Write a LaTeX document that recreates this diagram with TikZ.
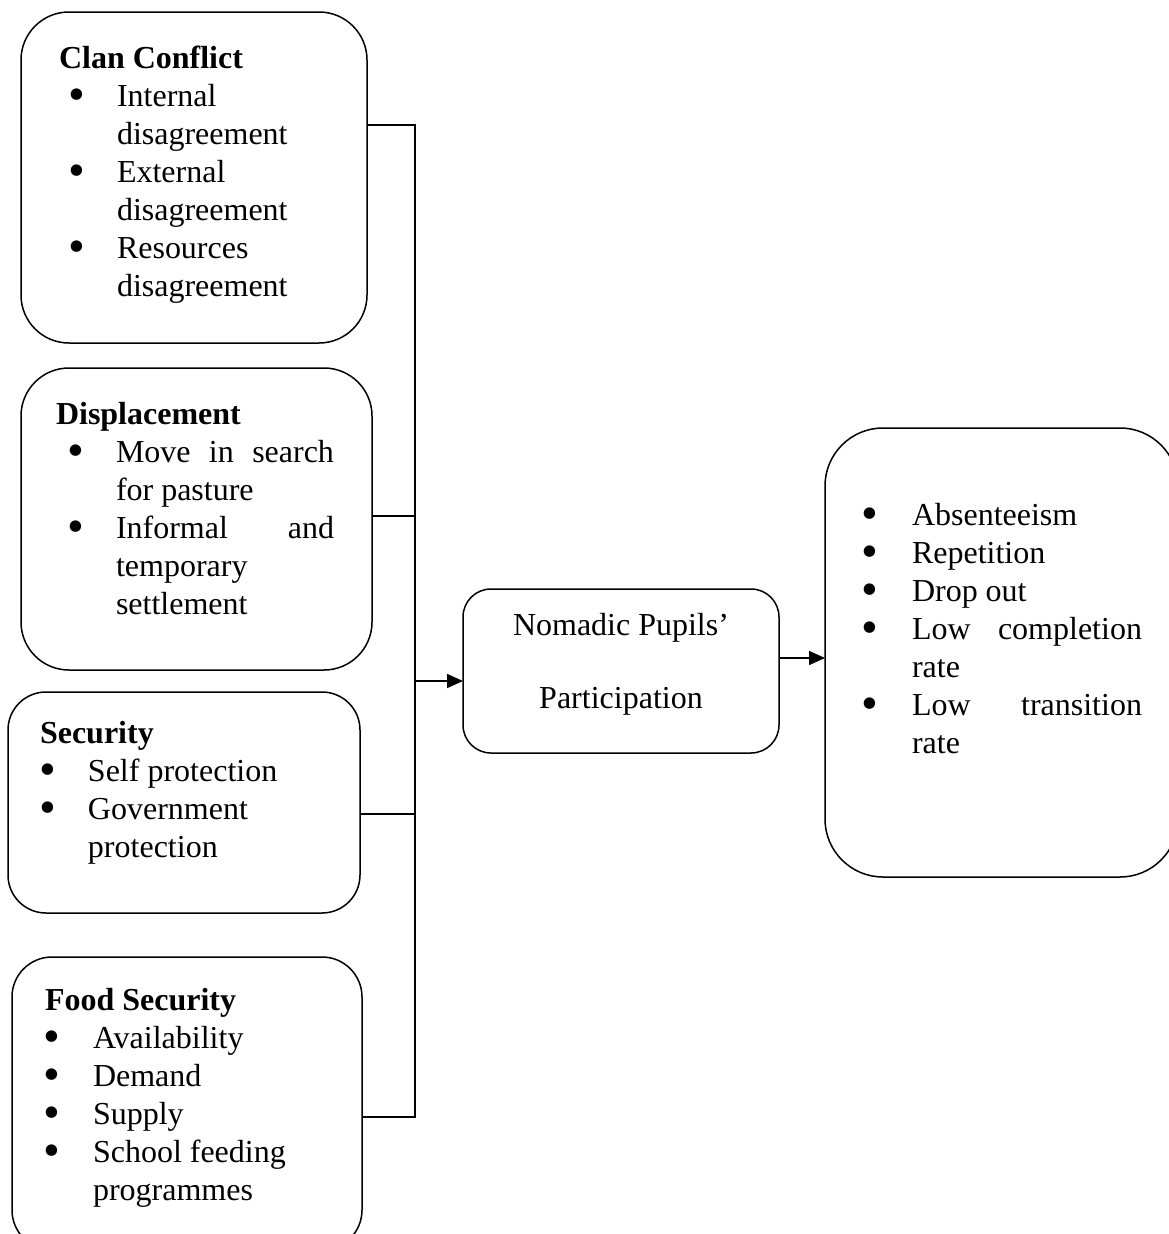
\documentclass[tikz,border=0pt]{standalone}
\usepackage{fontspec}
\setmainfont{Liberation Serif}
\usetikzlibrary{arrows.meta}
\newcommand\bdot{\smash{\raisebox{-4pt}{\scalebox{1.5}{\textbullet}}}}
\newcommand\hl[2]{\hbox{\hspace*{#1pt}\textbf{#2}}}
\newcommand\bl[3]{\hbox{\hspace*{\dimexpr#1pt-8.4pt\relax}\makebox[\dimexpr#2pt-#1pt+8.4pt\relax][l]{\bdot}#3}}
\newcommand\bj[4]{\hbox{\hspace*{\dimexpr#1pt-8.4pt\relax}\makebox[\dimexpr#2pt-#1pt+8.4pt\relax][l]{\bdot}\makebox[#3pt][s]{#4}}}
\newcommand\cl[2]{\hbox{\hspace*{#1pt}#2}}
\begin{document}
\begin{tikzpicture}[x=1pt,y=-1pt,line width=1.5pt,
  box/.style={draw,rectangle,rounded corners=#1,inner sep=0pt,outer sep=0pt},
  txt/.style={anchor=base west,inner sep=0pt,outer sep=0pt,font=\fontsize{32}{38}\selectfont},
  arr/.style={-{Triangle[length=16pt,width=14pt]}}]
\useasboundingbox (0,0) rectangle (1169,1234);
\clip (0,0) rectangle (1169,1234);
% boxes
\node[box=48pt,minimum width=346pt,minimum height=331pt] (clan) at (194,177.5) {};
\node[box=48pt,minimum width=351pt,minimum height=302pt] (disp) at (196.5,519) {};
\node[box=38pt,minimum width=352pt,minimum height=221pt] (sec) at (184,802.5) {};
\node[box=40pt,minimum width=350pt,minimum height=293pt] (food) at (187,1103.5) {};
\node[box=28pt,minimum width=316pt,minimum height=164pt] (nom) at (621,671) {};
\node[box=58pt,minimum width=353pt,minimum height=449pt] (out) at (1001.5,652.5) {};
% texts
\node[txt] (clantxt) at (0,68) {\vtop{%
  \hl{59}{Clan Conflict}%
  \bl{77}{117}{Internal}%
  \cl{117}{disagreement}%
  \bl{77}{117}{External}%
  \cl{117}{disagreement}%
  \bl{77}{117}{Resources}%
  \cl{117}{disagreement}}};
\node[txt] (disptxt) at (0,424) {\vtop{%
  \hl{56}{Displacement}%
  \bj{76}{116}{218}{Move\hfill in\hfill search}%
  \cl{116}{for pasture}%
  \bj{76}{116}{218}{Informal\hfill and}%
  \cl{116}{temporary}%
  \cl{116}{settlement}}};
\node[txt] (sectxt) at (0,743) {\vtop{%
  \hl{40}{Security}%
  \bl{48}{88}{Self protection}%
  \bl{48}{88}{Government}%
  \cl{88}{protection}}};
\node[txt] (foodtxt) at (0,1010) {\vtop{%
  \hl{45}{Food Security}%
  \bl{52}{93}{Availability}%
  \bl{52}{93}{Demand}%
  \bl{52}{93}{Supply}%
  \bl{52}{93}{School feeding}%
  \cl{93}{programmes}}};
\node[txt] (nomtxt) at (463,635) {\vtop{\baselineskip=73pt
  \hbox to 316pt{\hfil Nomadic Pupils’\hfil}%
  \hbox to 316pt{\hfil Participation\hfil}}};
\node[txt] (outtxt) at (0,525) {\vtop{%
  \bl{870}{912}{Absenteeism}%
  \bl{870}{912}{Repetition}%
  \bl{870}{912}{Drop out}%
  \bj{870}{912}{230}{Low\hfill completion}%
  \cl{912}{rate}%
  \bj{870}{912}{230}{Low\hfill transition}%
  \cl{912}{rate}}};
% bus coordinates
\coordinate (bus1) at (415,125);
\coordinate (bus2) at (415,516);
\coordinate (bus3) at (415,814);
\coordinate (bus4) at (415,1117);
\coordinate (busA) at (415,681);
\coordinate (outA) at (800,658);
% connectors
\draw (clan.east |- bus1) -- (bus1) -- (bus4) -- (food.east |- bus4);
\draw (disp.east |- bus2) -- (bus2);
\draw (sec.east |- bus3) -- (bus3);
\draw[arr] (busA) -- (nom.west |- busA);
\draw[arr] (nom.east |- outA) -- (out.west |- outA);
\end{tikzpicture}
\end{document}
